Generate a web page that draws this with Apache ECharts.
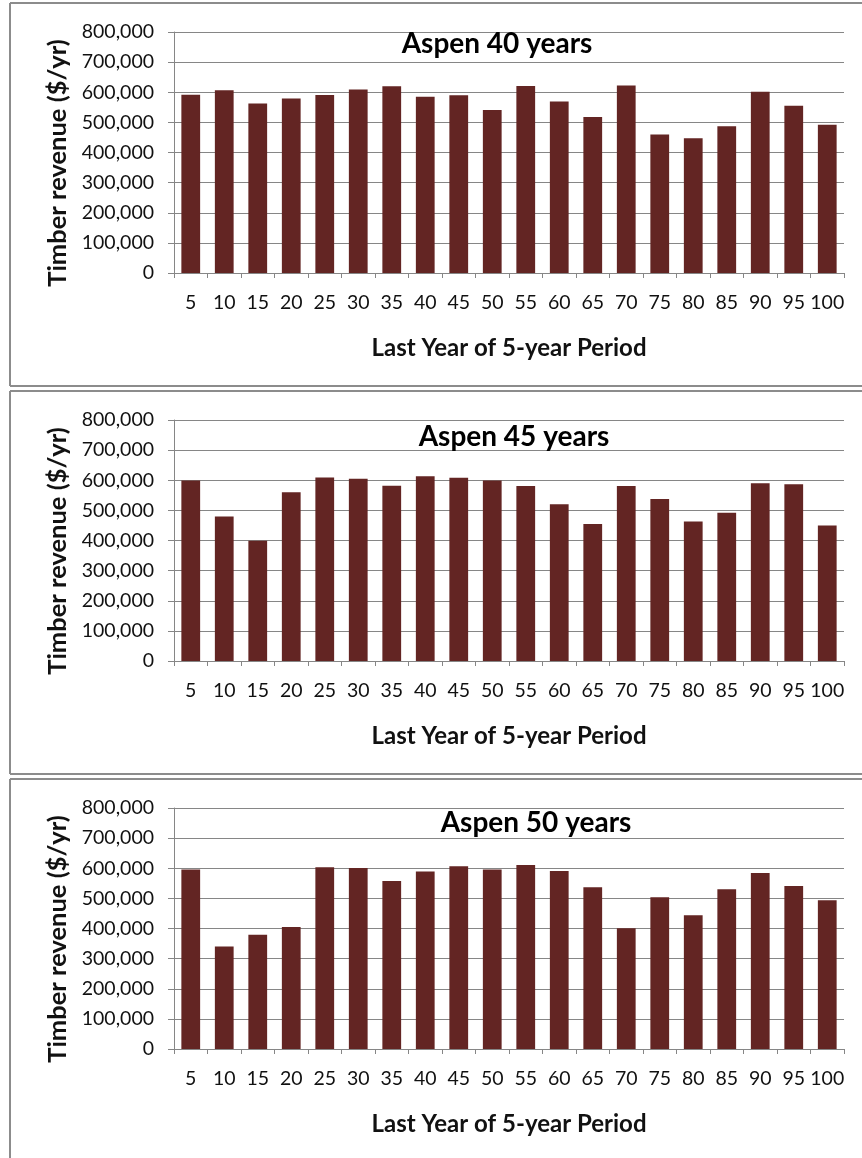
<!DOCTYPE html>
<html>
<head>
<meta charset="utf-8">
<title>Timber revenue by 5-year period</title>
<script src="https://cdn.jsdelivr.net/npm/echarts@6/dist/echarts.min.js"></script>
<style>
  html, body { margin: 0; padding: 0; background: #ffffff; }
  #chart { width: 862px; height: 1158px; }
</style>
</head>
<body>
<div id="chart"></div>
<script>
// Last year of each 5-year period
const periods = ['5', '10', '15', '20', '25', '30', '35', '40', '45', '50',
                 '55', '60', '65', '70', '75', '80', '85', '90', '95', '100'];

// Timber revenue ($/yr) for each rotation age
const aspen40 = [592000, 607000, 563000, 579000, 591000, 609000, 620000, 585000, 590000, 541000,
                 621000, 569000, 518000, 622000, 460000, 447000, 487000, 602000, 555000, 492000];
const aspen45 = [599000, 480000, 399000, 560000, 609000, 605000, 582000, 613000, 608000, 599000,
                 581000, 520000, 455000, 581000, 538000, 463000, 492000, 590000, 587000, 450000];
const aspen50 = [596000, 340000, 379000, 405000, 603000, 601000, 558000, 589000, 607000, 596000,
                 611000, 591000, 537000, 401000, 504000, 444000, 530000, 584000, 541000, 494000];

const panelTitles = ['Aspen 40 years', 'Aspen 45 years', 'Aspen 50 years'];
const panelSeries = [aspen40, aspen45, aspen50];

const yAxisName = 'Timber revenue ($/yr)';
const xAxisName = 'Last Year of 5-year Period';

// Panel geometry (one framed chart per rotation age, stacked vertically)
const PANEL_STRIDE = 388;
const PANEL_TOP = 3;
const FRAME_LEFT = 10;
const PLOT_LEFT = 174;
const PLOT_WIDTH = 670;
const PLOT_TOP_OFFSET = 29;
const PLOT_HEIGHT = 241;
const titleCenters = [[497, 44], [514, 437], [536, 823]];

const FONT = 'Lato, "Open Sans", "Noto Sans", sans-serif';
const BAR_COLOR = '#632523';
const GRID_COLOR = '#868686';
const FRAME_COLOR = '#8c8c8c';
const TEXT_COLOR = '#111111';

const grids = [], xAxes = [], yAxes = [], series = [], graphics = [];

panelSeries.forEach((values, i) => {
  const top = PANEL_TOP + i * PANEL_STRIDE;
  grids.push({ left: PLOT_LEFT, width: PLOT_WIDTH, top: top + PLOT_TOP_OFFSET, height: PLOT_HEIGHT });

  xAxes.push({
    gridIndex: i,
    type: 'category',
    data: periods,
    boundaryGap: true,
    name: xAxisName,
    nameLocation: 'middle',
    nameGap: 63,
    nameTextStyle: { fontFamily: FONT, fontWeight: 'bold', fontSize: 24, color: TEXT_COLOR },
    axisLine: { lineStyle: { color: GRID_COLOR, width: 1 } },
    axisTick: { show: true, alignWithLabel: false, length: 5, lineStyle: { color: GRID_COLOR } },
    axisLabel: { interval: 0, margin: 20, fontFamily: FONT, fontSize: 19.5, color: TEXT_COLOR },
    splitLine: { show: false }
  });

  yAxes.push({
    gridIndex: i,
    type: 'value',
    min: 0,
    max: 800000,
    interval: 100000,
    name: yAxisName,
    nameLocation: 'middle',
    nameRotate: 90,
    nameGap: 98,
    // right padding nudges the rotated name a little below the plot's centre line
    nameTextStyle: {
      fontFamily: FONT, fontWeight: 'bold', fontSize: 25.5, color: TEXT_COLOR,
      padding: [0, 21, 0, 0]
    },
    axisLine: { show: true, lineStyle: { color: GRID_COLOR, width: 1 } },
    axisTick: { show: true, length: 6, lineStyle: { color: GRID_COLOR } },
    axisLabel: {
      margin: 20, fontFamily: FONT, fontSize: 19.5, color: TEXT_COLOR,
      formatter: v => v.toLocaleString('en-US')
    },
    splitLine: { show: true, lineStyle: { color: GRID_COLOR, width: 1 } }
  });

  series.push({
    type: 'bar',
    xAxisIndex: i,
    yAxisIndex: i,
    data: values,
    barCategoryGap: '44%',
    itemStyle: { color: BAR_COLOR },
    silent: true
  });

  // Frame around each panel: top and left edges, bottom edge for the upper two
  const bottom = i < 2 ? top + 383 : 1160;
  graphics.push({
    type: 'line', silent: true,
    shape: { x1: FRAME_LEFT, y1: top, x2: 862, y2: top },
    style: { stroke: FRAME_COLOR, lineWidth: 2 }
  });
  graphics.push({
    type: 'line', silent: true,
    shape: { x1: FRAME_LEFT, y1: top, x2: FRAME_LEFT, y2: bottom },
    style: { stroke: FRAME_COLOR, lineWidth: 2 }
  });
  if (i < 2) {
    graphics.push({
      type: 'line', silent: true,
      shape: { x1: FRAME_LEFT, y1: bottom, x2: 862, y2: bottom },
      style: { stroke: FRAME_COLOR, lineWidth: 2 }
    });
  }

  // Panel title inside the plot area
  graphics.push({
    type: 'text', silent: true, z: 10,
    x: titleCenters[i][0], y: titleCenters[i][1],
    style: {
      text: panelTitles[i],
      fill: '#000000',
      font: 'bold 28px ' + FONT,
      textAlign: 'center',
      textVerticalAlign: 'middle'
    }
  });
});

const chart = echarts.init(document.getElementById('chart'), null, { renderer: 'canvas' });
chart.setOption({
  animation: false,
  backgroundColor: '#ffffff',
  grid: grids,
  xAxis: xAxes,
  yAxis: yAxes,
  series: series,
  graphic: graphics
});
</script>
</body>
</html>
